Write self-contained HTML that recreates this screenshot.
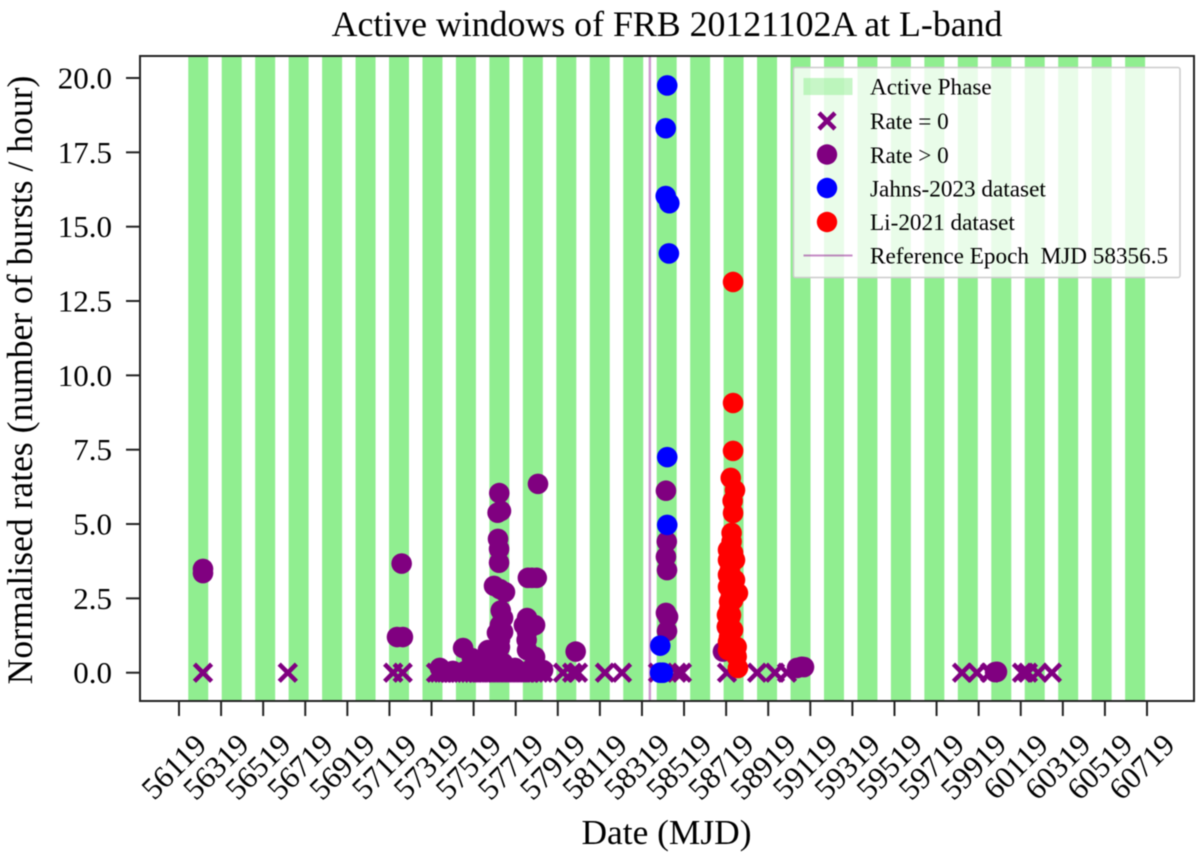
<!DOCTYPE html>
<html lang="en">
<head>
<meta charset="utf-8">
<title>Active windows of FRB 20121102A at L-band</title>
<style>
html,body{margin:0;padding:0;background:#fff;}
#wrap{width:1200px;height:862px;overflow:hidden;}
svg{display:block;filter:blur(0.4px);}
text{font-family:"Liberation Serif","Times New Roman",serif;fill:#000;}
</style>
</head>
<body>
<div id="wrap">
<svg id="chart" width="1200" height="862" viewBox="0 0 1200 862" xmlns="http://www.w3.org/2000/svg">
  <g id="bands"></g>
  <line id="refLine" stroke="#800080" stroke-opacity="0.4" stroke-width="2.4"></line>
  <g id="zeroMarks"></g>
  <g id="posMarks"></g>
  <g id="jahnsMarks"></g>
  <g id="liMarks"></g>
  <g id="axes"></g>
  <rect x="140" y="56" width="1054" height="645" fill="none" stroke="#222" stroke-width="2"></rect>

  <text x="667" y="36" font-size="35.8" text-anchor="middle">Active windows of FRB 20121102A at L-band</text>
  <text x="666.5" y="844" font-size="35.4" text-anchor="middle">Date (MJD)</text>
  <text transform="translate(32,380) rotate(-90)" font-size="35.6" text-anchor="middle">Normalised rates (number of bursts / hour)</text>

  <g>
    <rect x="793.5" y="67.5" width="386.5" height="210" rx="2" fill="#ffffff" fill-opacity="0.8" stroke="#cccccc" stroke-width="1.5"></rect>
    <rect x="803.5" y="78" width="49" height="17" fill="#90ee90" fill-opacity="0.5"></rect>
    <text x="870" y="94.500" font-size="23.2">Active Phase</text>
    <path d="M819 113L835 129M835 113L819 129" stroke="#800080" stroke-width="4.5" fill="none"></path>
    <text x="870" y="129" font-size="23.2">Rate = 0</text>
    <circle cx="827" cy="154.500" r="10.200" fill="#800080"></circle>
    <text x="870" y="163" font-size="23.2">Rate &gt; 0</text>
    <circle cx="827" cy="188" r="10.200" fill="#0000ff"></circle>
    <text x="870" y="196.500" font-size="23.2">Jahns-2023 dataset</text>
    <circle cx="827" cy="222" r="10.200" fill="#ff0000"></circle>
    <text x="870" y="230" font-size="23.2">Li-2021 dataset</text>
    <line x1="803.5" x2="852.5" y1="255.500" y2="255.500" stroke="#800080" stroke-opacity="0.45" stroke-width="2"></line>
    <text x="870" y="263.500" font-size="23.2" xml:space="preserve">Reference Epoch  MJD 58356.5</text>
  </g>
</svg>
</div>
<script>
const xTicks = [56119,56319,56519,56719,56919,57119,57319,57519,57719,57919,58119,58319,58519,58719,58919,59119,59319,59519,59719,59919,60119,60319,60519,60719];
const yTicks = [0,2.5,5,7.5,10,12.5,15,17.5,20];
const yTickLabels = ['0.0','2.5','5.0','7.5','10.0','12.5','15.0','17.5','20.0'];
const referenceEpoch = 58356.5;
const bandWidthDays = 95;
const bandStarts = [56163,56322,56481,56640,56799,56958,57117,57276,57435,57594,57753,57912,58071,58230,58389,58548,58707,58866,59025,59184,59343,59502,59661,59820,59979,60138,60297,60456,60615];

const zeroMjd = [56233,56636,57137,57182,57340,57356,57374,57388,57402,57418,57435,57452,57469,57485,57502,57520,57540,57560,57578,57597,57616,57635,57654,57673,57692,57711,57730,57749,57768,57787,57806,57828,57849,57944,57987,58015,58143,58224,58395,58485,58509,58723,58866,58951,59008,59840,59911,59973,60125,60153,60201,60267];

const posMjd = [56233,56233,57177,57155,57183,57469,57511,57359,57641,57633,57649,57635,57640,57640,57616,57668,57644,57648,57644,57630,57644,57610,57644,57587,57825,57777,57819,57796,57758,57811,57771,57773,57811,57583,57659,57801,57849,57716,58004,58433,58437,58433,58438,58433,58443,58438,58704,58723,59078,59089,59056,60006,59997,57420,57480,57540,57600,57660,57720,57780,57830,57659,57659,57773,57773];
const posRate = [3.49,3.35,3.67,1.20,1.20,0.83,0.49,0.16,6.04,5.38,5.44,4.50,4.16,3.70,2.92,2.71,2.81,2.09,1.60,1.34,1.10,0.71,0.86,0.76,6.35,3.19,3.19,3.19,1.60,1.60,1.10,0.76,0.53,0.33,0.33,0.19,0.09,0.16,0.71,6.12,4.41,3.90,3.45,2.01,1.88,1.40,0.71,1.54,0.20,0.19,0.16,0.03,0.02,0.06,0.06,0.06,0.06,0.06,0.06,0.06,0.06,1.37,1.84,1.37,1.84];

const jahnsMjd = [58439,58432,58432,58449,58447,58439,58439,58406,58418,58405];
const jahnsRate = [19.75,18.31,16.03,15.79,14.10,7.25,4.97,0.91,0,0];

const liMjd = [58752,58752,58752,58741,58761,58750,58752,58745,58745,58728,58752,58737,58761,58728,58775,58733,58742,58733,58737,58723,58733,58728,58769,58752,58775,58769,58728,58761,58728,58752,58742,58723,58752,58766,58737,58728];
const liRate = [13.14,9.07,7.46,6.55,6.14,5.78,5.37,4.70,4.41,4.13,4.03,3.45,3.12,2.89,2.68,2.39,2.61,2.11,1.84,1.55,1.21,1.04,0.87,0.71,0.16,0.54,3.79,3.79,3.29,2.44,1.94,1.94,1.44,0.60,1.10,0.76];

const SVG_NS = 'http://www.w3.org/2000/svg';
const plotTop = 56, plotBottom = 701, plotLeft = 140;
function xScale(m){ return 179 + (m - 56119) * (968 / 4600); }
function yScale(r){ return 672.7 - r * 29.735; }
function mk(tag, parent){
  const el = document.createElementNS(SVG_NS, tag);
  parent.appendChild(el);
  return el;
}

const bandsG = document.getElementById('bands');
bandStarts.forEach(function(s){
  const r = mk('rect', bandsG);
  
  
  r.setAttribute('x', xScale(s));
  r.setAttribute('y', plotTop);
  r.setAttribute('width', xScale(s + bandWidthDays) - xScale(s));
  r.setAttribute('height', plotBottom - plotTop);
  r.setAttribute('fill', '#90ee90');
});

const refLine = document.getElementById('refLine');
refLine.setAttribute('x1', xScale(referenceEpoch));
refLine.setAttribute('x2', xScale(referenceEpoch));
refLine.setAttribute('y1', plotTop);
refLine.setAttribute('y2', plotBottom);

const zeroG = document.getElementById('zeroMarks');
zeroMjd.forEach(function(m){
  const p = mk('path', zeroG);
  const cx = xScale(m), cy = yScale(0), a = 8.6;
  
  
  p.setAttribute('d', 'M' + (cx-a) + ' ' + (cy-a) + 'L' + (cx+a) + ' ' + (cy+a) + 'M' + (cx+a) + ' ' + (cy-a) + 'L' + (cx-a) + ' ' + (cy+a));
  p.setAttribute('stroke', '#800080');
  p.setAttribute('stroke-width', '4.5');
  p.setAttribute('fill', 'none');
});

function drawDots(groupId, xs, ys, color, name){
  const g = document.getElementById(groupId);
  xs.forEach(function(m, i){
    const c = mk('circle', g);
    
    
    c.setAttribute('cx', xScale(m));
    c.setAttribute('cy', yScale(ys[i]));
    c.setAttribute('r', 10.3);
    c.setAttribute('fill', color);
  });
}
drawDots('posMarks', posMjd, posRate, '#800080', 'rate-positive-point');
drawDots('jahnsMarks', jahnsMjd, jahnsRate, '#0000ff', 'jahns-2023-point');
drawDots('liMarks', liMjd, liRate, '#ff0000', 'li-2021-point');

const axesG = document.getElementById('axes');
xTicks.forEach(function(t){
  const x = xScale(t);
  const l = mk('line', axesG);
  
  
  l.setAttribute('x1', x); l.setAttribute('x2', x);
  l.setAttribute('y1', plotBottom); l.setAttribute('y2', plotBottom + 15);
  l.setAttribute('stroke', '#222'); l.setAttribute('stroke-width', '2');
  const tx = mk('text', axesG);
  
  
  tx.setAttribute('font-size', '31');
  tx.setAttribute('text-anchor', 'middle');
  tx.setAttribute('transform', 'translate(' + (x - 5) + ',767) rotate(-45) translate(0,10)');
  tx.textContent = String(t);
});
yTicks.forEach(function(t, i){
  const y = yScale(t);
  const l = mk('line', axesG);
  
  
  l.setAttribute('x1', plotLeft - 14); l.setAttribute('x2', plotLeft);
  l.setAttribute('y1', y); l.setAttribute('y2', y);
  l.setAttribute('stroke', '#222'); l.setAttribute('stroke-width', '2');
  const tx = mk('text', axesG);
  
  
  tx.setAttribute('font-size', '31');
  tx.setAttribute('text-anchor', 'end');
  tx.setAttribute('x', 112);
  tx.setAttribute('y', y + 10.5);
  tx.textContent = yTickLabels[i];
});
</script>
</body>
</html>
